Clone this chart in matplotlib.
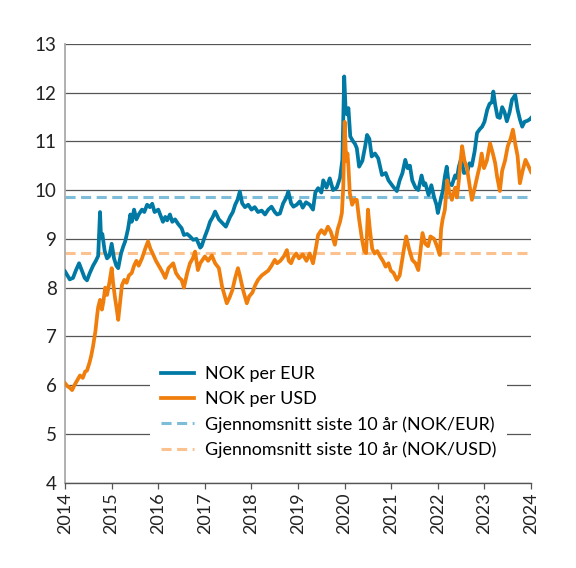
import numpy as np
import matplotlib.pyplot as plt

plt.rcParams['font.family'] = ['Lato', 'DejaVu Sans']

# NOK per EUR (tid i år, verdi)
eur_t = [2014.00, 2014.05, 2014.10, 2014.17, 2014.23, 2014.30, 2014.36, 2014.42, 2014.47, 2014.53,
         2014.60, 2014.66, 2014.71, 2014.75, 2014.77, 2014.80, 2014.85, 2014.90, 2014.95, 2015.00,
         2015.05, 2015.10, 2015.14, 2015.20, 2015.25, 2015.29, 2015.35, 2015.40, 2015.43, 2015.48,
         2015.53, 2015.58, 2015.65, 2015.70, 2015.76, 2015.82, 2015.87, 2015.92, 2016.00, 2016.04,
         2016.10, 2016.15, 2016.19, 2016.25, 2016.30, 2016.36, 2016.43, 2016.50, 2016.55, 2016.62,
         2016.68, 2016.75, 2016.82, 2016.90, 2016.93, 2017.00, 2017.06, 2017.11, 2017.17, 2017.22,
         2017.30, 2017.37, 2017.45, 2017.54, 2017.60, 2017.65, 2017.70, 2017.75, 2017.80, 2017.86,
         2017.93, 2018.00, 2018.07, 2018.14, 2018.22, 2018.29, 2018.36, 2018.43, 2018.50, 2018.55,
         2018.61, 2018.68, 2018.75, 2018.79, 2018.85, 2018.90, 2018.97, 2019.04, 2019.10, 2019.17,
         2019.25, 2019.32, 2019.37, 2019.43, 2019.50, 2019.54, 2019.61, 2019.68, 2019.75, 2019.83,
         2019.90, 2019.95, 2019.99, 2020.02, 2020.05, 2020.08, 2020.12, 2020.18, 2020.22, 2020.26,
         2020.31, 2020.38, 2020.44, 2020.48, 2020.53, 2020.58, 2020.65, 2020.72, 2020.80, 2020.88,
         2020.94, 2021.04, 2021.12, 2021.18, 2021.24, 2021.30, 2021.35, 2021.40, 2021.45, 2021.52,
         2021.58, 2021.65, 2021.70, 2021.73, 2021.80, 2021.86, 2021.92, 2021.97, 2022.00, 2022.06,
         2022.11, 2022.15, 2022.19, 2022.23, 2022.30, 2022.37, 2022.41, 2022.45, 2022.50, 2022.56,
         2022.63, 2022.68, 2022.73, 2022.79, 2022.84, 2022.90, 2022.95, 2023.00, 2023.06, 2023.11,
         2023.16, 2023.19, 2023.23, 2023.28, 2023.33, 2023.38, 2023.43, 2023.48, 2023.54, 2023.59,
         2023.66, 2023.71, 2023.76, 2023.81, 2023.86, 2023.92, 2023.97, 2024.00]
eur = [8.33, 8.25, 8.17, 8.20, 8.35, 8.50, 8.35, 8.20, 8.15, 8.30,
       8.45, 8.55, 8.65, 9.55, 9.05, 9.10, 8.75, 8.60, 8.65, 8.90,
       8.60, 8.45, 8.40, 8.70, 8.85, 8.95, 9.20, 9.50, 9.35, 9.60,
       9.40, 9.50, 9.60, 9.55, 9.70, 9.65, 9.72, 9.55, 9.60, 9.50,
       9.35, 9.45, 9.38, 9.50, 9.35, 9.40, 9.30, 9.22, 9.08, 9.10,
       9.05, 8.98, 9.00, 8.82, 8.85, 9.05, 9.20, 9.35, 9.45, 9.56,
       9.40, 9.33, 9.25, 9.45, 9.55, 9.70, 9.80, 9.97, 9.73, 9.65,
       9.70, 9.60, 9.65, 9.55, 9.58, 9.50, 9.60, 9.66, 9.55, 9.50,
       9.52, 9.73, 9.85, 9.97, 9.73, 9.66, 9.70, 9.77, 9.64, 9.75,
       9.70, 9.60, 9.95, 10.04, 9.95, 10.20, 10.05, 10.24, 10.00, 10.05,
       10.25, 10.62, 12.33, 11.65, 11.55, 11.68, 11.10, 11.00, 10.95, 10.86,
       10.48, 10.60, 10.90, 11.13, 11.05, 10.69, 10.75, 10.65, 10.31, 10.35,
       10.20, 10.07, 9.98, 10.20, 10.35, 10.62, 10.45, 10.50, 10.20, 10.05,
       10.00, 10.30, 10.10, 10.14, 9.90, 10.10, 9.85, 9.70, 9.53, 9.80,
       10.00, 10.28, 10.48, 10.14, 10.10, 10.30, 10.25, 10.48, 10.65, 10.35,
       10.37, 10.55, 10.50, 10.80, 11.17, 11.25, 11.30, 11.40, 11.65, 11.77,
       11.80, 12.02, 11.75, 11.50, 11.48, 11.70, 11.60, 11.41, 11.60, 11.85,
       11.95, 11.65, 11.45, 11.30, 11.40, 11.42, 11.45, 11.48]

# NOK per USD (tid i år, verdi)
usd_t = [2014.00, 2014.05, 2014.10, 2014.15, 2014.20, 2014.26, 2014.32, 2014.38, 2014.43, 2014.47,
         2014.52, 2014.56, 2014.60, 2014.65, 2014.69, 2014.71, 2014.75, 2014.79, 2014.82, 2014.86,
         2014.90, 2014.95, 2015.00, 2015.03, 2015.07, 2015.11, 2015.14, 2015.18, 2015.22, 2015.27,
         2015.32, 2015.37, 2015.43, 2015.48, 2015.53, 2015.58, 2015.65, 2015.72, 2015.78, 2015.83,
         2015.88, 2015.95, 2016.04, 2016.10, 2016.15, 2016.22, 2016.27, 2016.32, 2016.38, 2016.45,
         2016.50, 2016.55, 2016.62, 2016.68, 2016.74, 2016.79, 2016.85, 2016.90, 2017.00, 2017.07,
         2017.15, 2017.22, 2017.30, 2017.37, 2017.42, 2017.47, 2017.53, 2017.59, 2017.65, 2017.71,
         2017.75, 2017.82, 2017.90, 2017.95, 2018.02, 2018.08, 2018.14, 2018.22, 2018.29, 2018.36,
         2018.43, 2018.50, 2018.55, 2018.62, 2018.70, 2018.76, 2018.80, 2018.85, 2018.90, 2018.96,
         2019.02, 2019.10, 2019.18, 2019.25, 2019.32, 2019.38, 2019.43, 2019.50, 2019.57, 2019.64,
         2019.70, 2019.79, 2019.85, 2019.90, 2019.94, 2019.97, 2020.00, 2020.03, 2020.06, 2020.08,
         2020.11, 2020.16, 2020.21, 2020.26, 2020.31, 2020.37, 2020.42, 2020.46, 2020.50, 2020.54,
         2020.59, 2020.64, 2020.70, 2020.76, 2020.82, 2020.88, 2020.94, 2020.99, 2021.05, 2021.12,
         2021.18, 2021.24, 2021.28, 2021.32, 2021.38, 2021.45, 2021.52, 2021.58, 2021.62, 2021.67,
         2021.73, 2021.79, 2021.84, 2021.92, 2021.98, 2022.04, 2022.07, 2022.10, 2022.15, 2022.20,
         2022.25, 2022.30, 2022.37, 2022.41, 2022.45, 2022.49, 2022.52, 2022.57, 2022.62, 2022.68,
         2022.73, 2022.78, 2022.85, 2022.90, 2022.94, 2022.99, 2023.05, 2023.12, 2023.18, 2023.23,
         2023.27, 2023.33, 2023.38, 2023.44, 2023.50, 2023.56, 2023.61, 2023.66, 2023.71, 2023.76,
         2023.82, 2023.88, 2023.94, 2024.00]
usd = [6.04, 5.98, 5.95, 5.90, 6.00, 6.10, 6.20, 6.15, 6.28, 6.30,
       6.45, 6.60, 6.80, 7.10, 7.45, 7.60, 7.75, 7.55, 7.70, 8.00,
       7.85, 8.10, 8.40, 8.10, 7.80, 7.55, 7.34, 7.70, 8.05, 8.16,
       8.10, 8.25, 8.30, 8.45, 8.55, 8.45, 8.60, 8.80, 8.95, 8.80,
       8.70, 8.55, 8.40, 8.30, 8.20, 8.40, 8.45, 8.50, 8.30, 8.20,
       8.16, 8.00, 8.30, 8.50, 8.60, 8.74, 8.36, 8.50, 8.64, 8.55,
       8.66, 8.50, 8.40, 8.02, 7.85, 7.68, 7.80, 7.95, 8.20, 8.40,
       8.25, 7.95, 7.68, 7.82, 7.90, 8.05, 8.16, 8.25, 8.30, 8.35,
       8.45, 8.57, 8.50, 8.55, 8.65, 8.77, 8.55, 8.50, 8.62, 8.70,
       8.60, 8.68, 8.55, 8.70, 8.50, 8.80, 9.08, 9.18, 9.10, 9.25,
       9.15, 8.88, 9.20, 9.35, 9.53, 10.07, 11.40, 10.60, 10.75, 10.50,
       9.94, 9.70, 9.80, 9.80, 9.40, 9.00, 8.75, 8.71, 9.60, 9.20,
       8.80, 8.70, 8.75, 8.64, 8.55, 8.43, 8.50, 8.35, 8.30, 8.16,
       8.25, 8.60, 8.84, 9.05, 8.80, 8.57, 8.50, 8.36, 8.70, 9.12,
       8.90, 8.85, 9.05, 9.00, 8.85, 8.67, 9.20, 9.39, 9.60, 10.20,
       9.94, 9.80, 10.05, 9.85, 10.20, 10.62, 10.90, 10.60, 10.48, 10.10,
       9.80, 10.00, 10.30, 10.50, 10.75, 10.45, 10.60, 10.96, 10.75, 10.55,
       10.28, 9.98, 10.40, 10.60, 10.90, 11.05, 11.24, 10.95, 10.70, 10.14,
       10.40, 10.62, 10.50, 10.37]

snitt_eur = 9.85
snitt_usd = 8.72

years = list(range(2014, 2025))

fig = plt.figure(figsize=(5.76, 5.68), dpi=100)
ax = fig.add_axes([0.113, 0.150, 0.809, 0.773])

blue = '#0079a4'
orange = '#f07e0c'
light_blue = '#7dbdda'
light_orange = '#fbc18f'

ax.plot(eur_t, eur, color=blue, lw=2.7, label='NOK per EUR', zorder=3)
ax.plot(usd_t, usd, color=orange, lw=2.7, label='NOK per USD', zorder=3)
ax.plot([2014, 2024], [snitt_eur, snitt_eur], color=light_blue, lw=2.2,
        dashes=(3.3, 1.8), label='Gjennomsnitt siste 10 år (NOK/EUR)', zorder=2)
ax.plot([2014, 2024], [snitt_usd, snitt_usd], color=light_orange, lw=2.2,
        dashes=(3.3, 1.8), label='Gjennomsnitt siste 10 år (NOK/USD)', zorder=2)

ax.set_xlim(2014, 2024)
ax.set_ylim(4, 13)
ax.set_yticks(range(4, 14))
ax.set_xticks(years)
ax.set_xticklabels([str(y) for y in years], rotation=90)
ax.grid(axis='y', color='#555555', lw=0.9)
ax.set_axisbelow(True)

for s in ['top', 'right']:
    ax.spines[s].set_visible(False)
ax.spines['left'].set_color('#aaaaaa')
ax.spines['left'].set_linewidth(1.3)
ax.spines['bottom'].set_color('#555555')
ax.spines['bottom'].set_linewidth(1.0)

ax.tick_params(axis='y', length=0, labelsize=13.5, colors='#222222', pad=6)
ax.tick_params(axis='x', length=4, width=0.9, color='#555555', labelsize=13,
               labelcolor='#222222', pad=3)

leg = ax.legend(loc='center', bbox_to_anchor=(0.566, 0.161), fontsize=12.9,
                frameon=True, facecolor='white', edgecolor='none', framealpha=1,
                handlelength=1.85, handletextpad=0.6, labelspacing=0.5,
                borderpad=0.6, fancybox=False)
leg.set_zorder(5)

fig.savefig('out.png', dpi=100)
